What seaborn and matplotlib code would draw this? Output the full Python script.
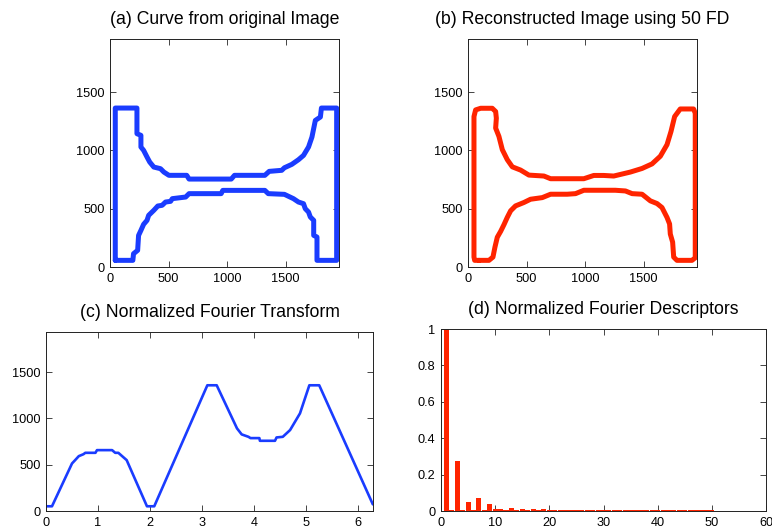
import numpy as np
import pandas as pd
import matplotlib
matplotlib.use("Agg")
import matplotlib.pyplot as plt
from matplotlib.ticker import FormatStrFormatter
import seaborn as sns

# (a) contour, counter-clockwise from bottom left
orig_x = [45, 195, 201, 236, 244, 264, 287, 316, 330, 374, 408, 445, 474, 517, 532,
          646, 675, 949, 963, 1322, 1351, 1489, 1566, 1609, 1652, 1667, 1695, 1710,
          1739, 1739, 1767, 1767, 1935, 1935, 1805, 1796, 1753, 1724, 1695, 1652,
          1609, 1552, 1489, 1466, 1359, 1322, 1063, 1035, 675, 655, 503, 460, 431,
          374, 339, 316, 287, 264, 264, 230, 230, 45, 45]
orig_y = [57, 57, 114, 143, 271, 314, 366, 400, 443, 486, 523, 529, 557, 563, 586,
          600, 629, 629, 657, 657, 629, 623, 586, 557, 543, 500, 471, 429,
          400, 271, 257, 57, 57, 1363, 1363, 1286, 1257, 1114, 1029, 957,
          920, 880, 851, 829, 820, 786, 786, 754, 754, 786, 786, 814, 843,
          857, 900, 943, 1000, 1029, 1129, 1143, 1363, 1363, 57]

# (b) reconstruction with 50 descriptors
recon_x = [94, 179, 213, 230, 250, 279, 307, 335, 364, 406, 477, 534, 634, 705, 847,
           918, 989, 1258, 1344, 1401, 1486, 1557, 1614, 1656, 1699, 1721, 1727,
           1747, 1756, 1784, 1912, 1940, 1940, 1926, 1812, 1764, 1733, 1699, 1642,
           1571, 1486, 1386, 1244, 1159, 1074, 989, 705, 648, 520, 449, 378, 335,
           293, 264, 236, 242, 236, 207, 108, 65, 51, 51, 57, 94]
recon_y = [57, 57, 85, 170, 255, 306, 363, 425, 482, 524, 553, 581, 595, 624, 624,
           629, 658, 658, 652, 629, 624, 567, 544, 510, 425, 369, 283,
           213, 85, 57, 57, 79, 1318, 1355, 1355, 1290, 1162, 1049, 950,
           884, 845, 814, 780, 785, 785, 757, 757, 780, 788, 831, 859, 921,
           1006, 1120, 1191, 1276, 1333, 1361, 1361, 1347, 1290, 85, 57, 57]

# (c) normalized fourier transform
ft_t = [0, 0.115, 0.5, 0.56, 0.63, 0.72, 0.755, 0.95, 0.98, 1.27, 1.33, 1.39, 1.55,
        1.94, 2.08, 3.10, 3.28, 3.67, 3.76, 3.89, 3.93, 4.10, 4.11, 4.40, 4.43,
        4.55, 4.69, 4.88, 5.06, 5.25, 6.28]
ft_val = [51, 51, 514, 550, 593, 614, 629, 629, 658, 658, 629, 629, 550,
          51, 51, 1359, 1359, 893, 828, 802, 788, 788, 759, 759, 795,
          802, 875, 1055, 1359, 1359, 72]

# (d) normalized fourier descriptors
fd_idx = list(range(1, 51))
fd_val = [1.0, 0.004, 0.275, 0.004, 0.048, 0.004, 0.07, 0.004, 0.037, 0.009,
          0.009, 0.005, 0.017, 0.004, 0.009, 0.004, 0.009, 0.004, 0.009, 0.004,
          0.005, 0.004, 0.008, 0.004, 0.004, 0.004, 0.004, 0.004, 0.004, 0.004,
          0.004, 0.004, 0.004, 0.004, 0.004, 0.004, 0.004, 0.004, 0.004, 0.004,
          0.004, 0.004, 0.004, 0.004, 0.004, 0.004, 0.004, 0.004, 0.004, 0.004]

blue = "#1a3cff"
red = "#ff2400"

sns.set_style("ticks")
plt.rcParams["font.family"] = ["Liberation Sans", "DejaVu Sans"]
plt.rcParams["axes.edgecolor"] = "#222222"
plt.rcParams["axes.linewidth"] = 0.7

fig = plt.figure(figsize=(7.72, 5.29), dpi=100)
W, H = 772, 529
ax_a = fig.add_axes([110 / W, 1 - 267 / H, 229 / W, 228 / H])
ax_b = fig.add_axes([468 / W, 1 - 267 / H, 229 / W, 228 / H])
ax_c = fig.add_axes([46 / W, 1 - 511 / H, 327 / W, 179 / H])
ax_d = fig.add_axes([441 / W, 1 - 511 / H, 325 / W, 182 / H])

sns.lineplot(x=orig_x, y=orig_y, sort=False, estimator=None, color=blue,
             linewidth=3.6, ax=ax_a)
sns.lineplot(x=recon_x, y=recon_y, sort=False, estimator=None, color=red,
             linewidth=3.6, ax=ax_b)
sns.lineplot(x=ft_t, y=ft_val, sort=False, estimator=None, color=blue,
             linewidth=1.9, ax=ax_c)
sns.barplot(x=fd_idx, y=fd_val, native_scale=True, width=0.95, errorbar=None,
            color=red, saturation=1, linewidth=0, ax=ax_d)

for ax in (ax_a, ax_b):
    ax.set_xlim(0, 1955)
    ax.set_ylim(0, 1955)
    ax.set_xticks([0, 500, 1000, 1500])
    ax.set_yticks([0, 500, 1000, 1500])

ax_c.set_xlim(0, 2 * np.pi)
ax_c.set_ylim(0, 1935)
ax_c.set_xticks(range(0, 7))
ax_c.set_yticks([0, 500, 1000, 1500])

ax_d.set_xlim(0, 60)
ax_d.set_ylim(0, 1)
ax_d.set_xticks(range(0, 61, 10))
ax_d.set_yticks([0, 0.2, 0.4, 0.6, 0.8, 1])
ax_d.yaxis.set_major_formatter(FormatStrFormatter("%g"))
ax_d.xaxis.set_major_formatter(FormatStrFormatter("%g"))

titles = ["(a) Curve from original Image", "(b) Reconstructed Image using 50 FD",
          "(c) Normalized Fourier Transform", "(d) Normalized Fourier Descriptors"]
for ax, t in zip((ax_a, ax_b, ax_c, ax_d), titles):
    ax.set_title(t, fontsize=12.7, pad=11, color="black")
    ax.tick_params(direction="in", top=True, right=True, length=4, width=0.6,
                   labelsize=9.2, pad=4, labelcolor="black")
    ax.set_xlabel("")
    ax.set_ylabel("")

fig.savefig("out.png", dpi=100)
